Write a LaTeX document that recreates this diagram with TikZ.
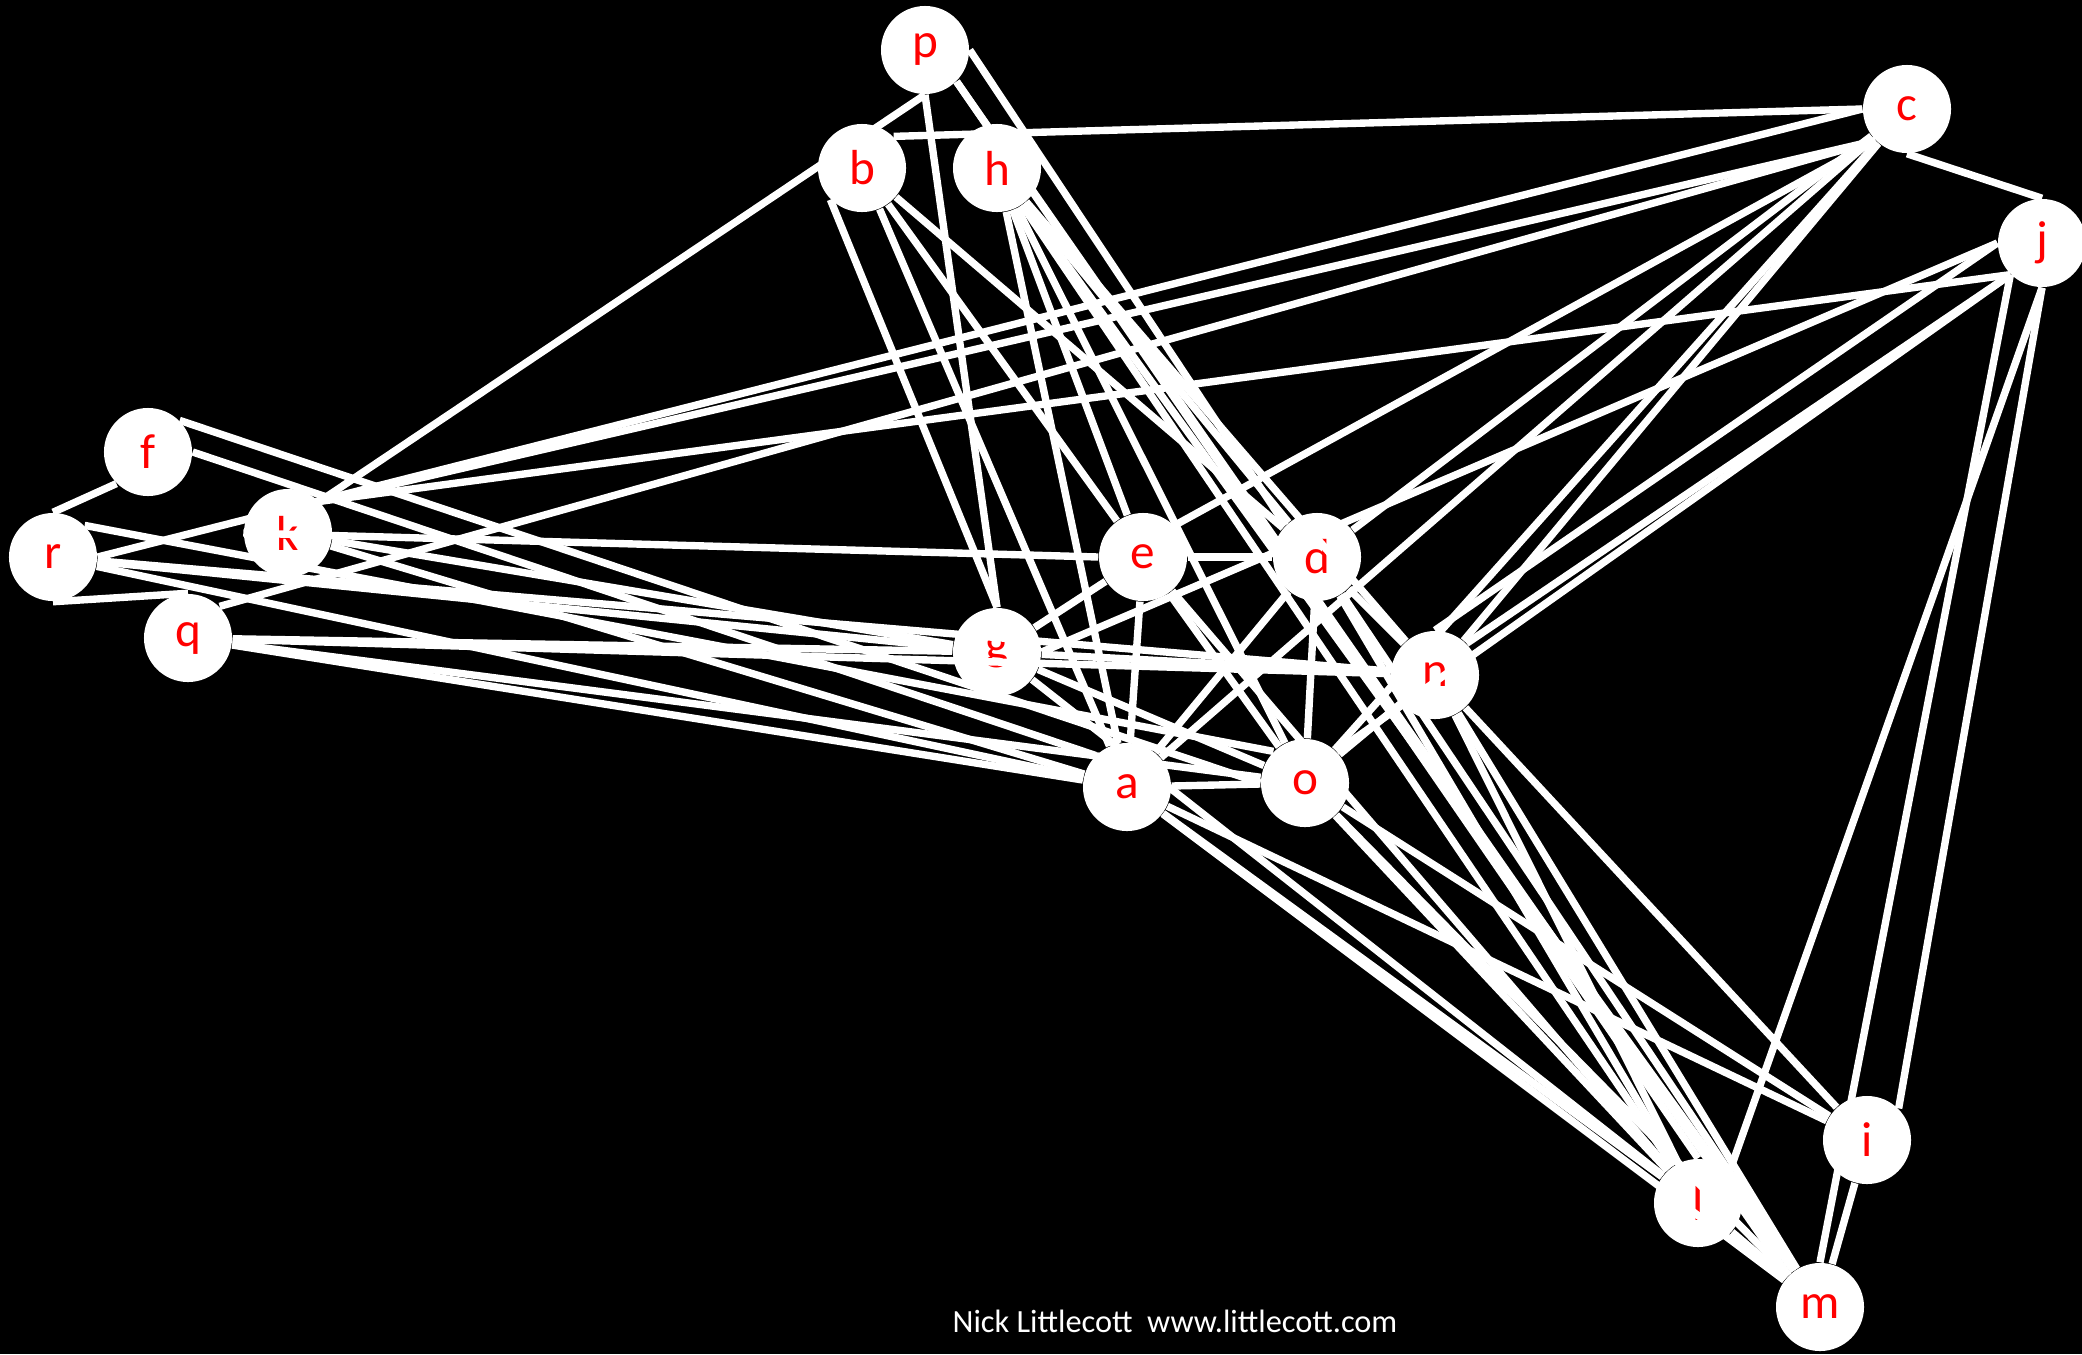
\documentclass[tikz,border=0pt]{standalone}
\usepackage{fontspec}
\setmainfont{Carlito}
\usetikzlibrary{positioning}
\definecolor{labelRed}{RGB}{255,0,0}

\begin{document}
\begin{tikzpicture}[
    x=0.01cm, y=-0.01cm,
    vertex/.style={circle, fill=white, minimum size=8.8mm, inner sep=0pt,
        text=labelRed, font=\fontsize{14}{14}\selectfont},
    edge/.style={white, line width=2.1pt},
    credit/.style={white, font=\fontsize{9.2}{10}\selectfont}
]
    % Page: black slide, 2082 x 1354 px
    \fill[black] (0,0) rectangle (2082,1354);
    \useasboundingbox (0,0) rectangle (2082,1354);
    \clip (0,0) rectangle (2082,1354);

    % Vertices (px positions on the slide)
    \node[vertex] (p) at (925,50) {p};
    \node[vertex] (b) at (862,168) {b};
    \node[vertex] (h) at (997,168) {h};
    \node[vertex] (c) at (1907,109) {c};
    \node[vertex] (j) at (2042,243) {j};
    \node[vertex] (f) at (148,452) {f};
    \node[vertex] (k) at (288,533) {k};
    \node[vertex] (r) at (53,557) {r};
    \node[vertex] (q) at (188,638) {q};
    \node[vertex] (e) at (1143,557) {e};
    \node[vertex] (d) at (1317,557) {d};
    \node[vertex] (g) at (997,652) {g};
    \node[vertex] (n) at (1435,675) {n};
    \node[vertex] (a) at (1127,787) {a};
    \node[vertex] (o) at (1305,783) {o};
    \node[vertex] (i) at (1867,1140) {i};
    \node[vertex] (l) at (1698,1203) {l};
    \node[vertex] (m) at (1820,1307) {m};

    % Edges fixed to connection points
    \draw[edge] (p.south) -- (k.north east);
    \draw[edge] (b.north east) -- (c.west);
    \draw[edge] (c.south) -- (j.north);
    \draw[edge] (r.east) -- (c.west);
    \draw[edge] (k.north east) -- (c.south west);
    \draw[edge] (q.north east) -- (c.south west);
    \draw[edge] (e.north east) -- (c.south west);
    \draw[edge] (f.south west) -- (r.north);
    \draw[edge] (r.south) -- (q.north);
    \draw[edge] (k.west) -- (e.west);
    \draw[edge] (e.east) -- (d.west);
    \draw[edge] (j.west) -- (g.east);
    \draw[edge] (j.south west) -- (k.north east);
    \draw[edge] (p.east) -- (d.north west);
    \draw[edge] (p.south east) -- (l.north);
    \draw[edge] (p.south east) -- (m.north west);
    \draw[edge] (p.south) -- (g.north);
    \draw[edge] (b.south west) -- (g.north);
    \draw[edge] (f.north east) -- (o.west);
    \draw[edge] (f.east) -- (a.north west);
    \draw[edge] (r.north east) -- (o.north west);
    \draw[edge] (j.west) -- (n.north);
    \draw[edge] (j.south west) -- (n.north east);
    \draw[edge] (j.south west) -- (o.north east);
    \draw[edge] (j.south) -- (l.north east);
    \draw[edge] (j.south west) -- (m.north);
    \draw[edge] (j.south) -- (i.north east);

    % Other edges
    \foreach \from/\to in {b/a, b/e, b/d,
        h/a, h/e, h/o, h/d, h/n, h/l, h/m,
        c/a, c/d, c/n, c/o,
        r/g, r/a, r/n,
        k/g, k/a,
        q/g, q/a, q/n, q/o,
        e/g, e/a, e/o, e/l,
        d/a, d/o, d/n, d/l, d/m,
        g/n, g/o, g/l,
        a/o, a/l, a/m, a/i,
        o/n, o/l, o/m, o/i,
        n/l, n/m, n/i,
        i/m, l/m}{
        \draw[edge] (\from) -- (\to);
    }

    % Credit line
    \node[credit] (credit) at (1175,1321) {Nick Littlecott\ \ www.littlecott.com};
\end{tikzpicture}
\end{document}
